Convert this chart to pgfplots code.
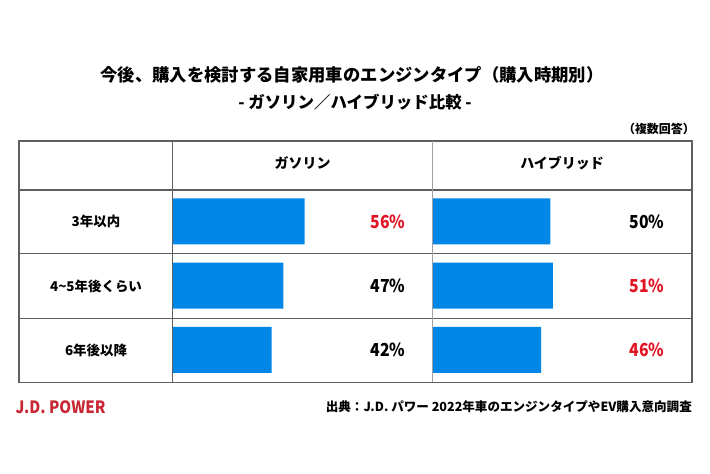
\documentclass[border=0pt]{standalone}
\usepackage{pgfplots}
\pgfplotsset{compat=1.18}
\usepackage{fontspec}
\setmainfont{Noto Sans CJK JP}
\newfontfamily\condfont{Noto Sans CJK JP}[FakeStretch=0.88]
\newfontfamily\logofont{Noto Sans CJK JP}[FakeStretch=0.89]
\definecolor{barblue}{RGB}{0,134,230}
\definecolor{pctred}{RGB}{226,20,36}
\definecolor{jdred}{RGB}{200,40,52}
\definecolor{linedark}{RGB}{95,95,95}
\definecolor{linelight}{RGB}{160,160,160}
\begin{document}
\begin{tikzpicture}[x=1bp,y=1bp]
\path[fill=white] (0,0) rectangle (710,474);
\coordinate (gasorigin) at (173.2,92);
\coordinate (hyborigin) at (433.2,92);
% titles
\node[inner sep=0, font=\bfseries\fontsize{17.4}{20}\selectfont] at (352,399) {今後、購入を検討する自家用車のエンジンタイプ（購入時期別）};
\node[inner sep=0, font=\bfseries\fontsize{16.5}{19}\selectfont] at (355,372) {- ガソリン／ハイブリッド比較 -};
\node[anchor=east, inner sep=0, font=\bfseries\fontsize{12}{14}\selectfont] at (695,345) {（複数回答）};
% table grid
\draw[linedark, line width=1.2bp] (19,91.7) rectangle (692,333);
\draw[linedark, line width=1.2bp] (19,284) -- (692,284);
\draw[linedark, line width=1bp] (19,220) -- (692,220);
\draw[linedark, line width=1bp] (19,155.5) -- (692,155.5);
\draw[linedark, line width=1.1bp] (172.7,91.7) -- (172.7,333);
\draw[linelight, line width=1bp] (432.5,91.7) -- (432.5,333);
% headers
\node[inner sep=0, font=\bfseries\fontsize{14}{16}\selectfont] at (302.6,310.7) {ガソリン};
\node[inner sep=0, font=\bfseries\fontsize{14}{16}\selectfont] at (562,310.7) {ハイブリッド};
% row labels
\node[inner sep=0, font=\bfseries\fontsize{13.5}{16}\selectfont] at (96,252.3) {3年以内};
\node[inner sep=0, font=\bfseries\fontsize{13.5}{16}\selectfont] at (96,188) {4\textasciitilde5年後くらい};
\node[inner sep=0, font=\bfseries\fontsize{13.5}{16}\selectfont] at (96,124) {6年後以降};
% gasoline
\begin{axis}[at={(gasorigin)}, anchor=south west, scale only axis,
  width=234.5bp, height=192.6bp, xmin=0, xmax=100, ymin=0.5, ymax=3.5,
  y dir=reverse, hide axis, xbar, bar width=46bp, clip=false]
\addplot[fill=barblue, draw=none] coordinates {(56,1) (47,2) (42,3)};
\node[anchor=east, inner sep=0, text=pctred, font=\condfont\bfseries\fontsize{18}{20}\selectfont] at (axis cs:99.06,1) {56\%};
\node[anchor=east, inner sep=0, font=\condfont\bfseries\fontsize{18}{20}\selectfont] at (axis cs:99.06,2) {47\%};
\node[anchor=east, inner sep=0, font=\condfont\bfseries\fontsize{18}{20}\selectfont] at (axis cs:99.06,3) {42\%};
\end{axis}
% hybrid
\begin{axis}[at={(hyborigin)}, anchor=south west, scale only axis,
  width=234.5bp, height=192.6bp, xmin=0, xmax=100, ymin=0.5, ymax=3.5,
  y dir=reverse, hide axis, xbar, bar width=46bp, clip=false]
\addplot[fill=barblue, draw=none] coordinates {(50,1) (51,2) (46,3)};
\node[anchor=east, inner sep=0, font=\condfont\bfseries\fontsize{18}{20}\selectfont] at (axis cs:98.7,1) {50\%};
\node[anchor=east, inner sep=0, text=pctred, font=\condfont\bfseries\fontsize{18}{20}\selectfont] at (axis cs:98.7,2) {51\%};
\node[anchor=east, inner sep=0, text=pctred, font=\condfont\bfseries\fontsize{18}{20}\selectfont] at (axis cs:98.7,3) {46\%};
\end{axis}
% footer
\node[anchor=west, inner sep=0, text=jdred, font=\logofont\bfseries\fontsize{17}{19}\selectfont] at (15.5,67) {J.D. POWER};
\node[anchor=east, inner sep=0, font=\bfseries\fontsize{12.6}{15}\selectfont] at (692,67) {出典：J.D. パワー 2022年車のエンジンタイプやEV購入意向調査};
\end{tikzpicture}
\end{document}
